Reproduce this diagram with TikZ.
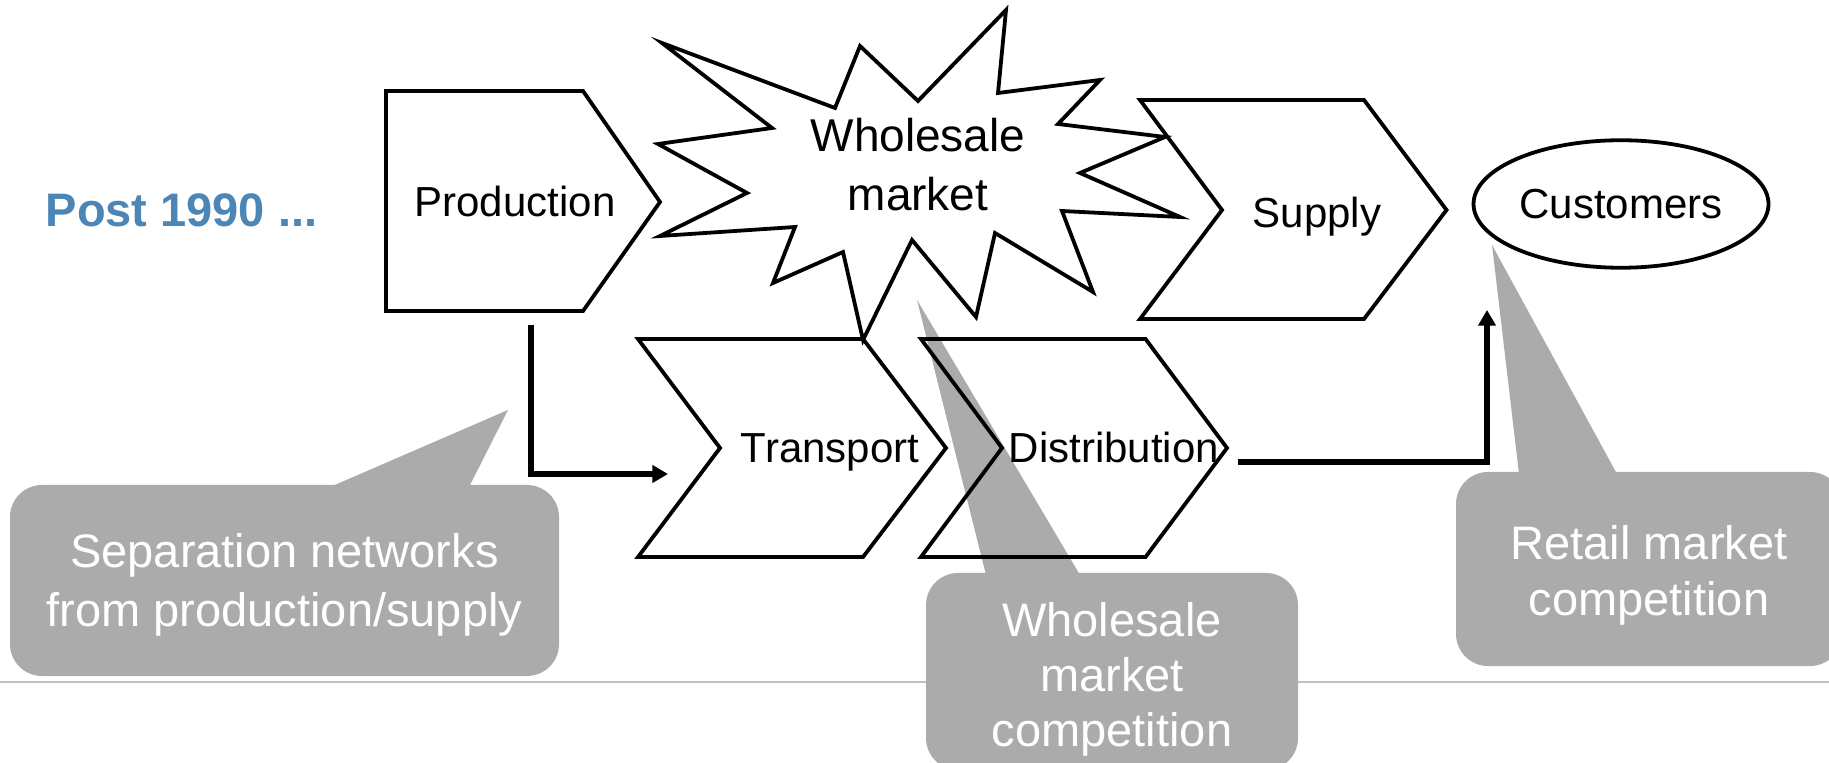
\documentclass[tikz,border=0pt]{standalone}
\usepackage{fontspec}
\setmainfont{Liberation Sans}
\usetikzlibrary{arrows.meta,shapes.geometric}

\definecolor{calloutgray}{RGB}{171,171,171}
\definecolor{postblue}{RGB}{75,134,183}
\definecolor{rulegray}{RGB}{192,192,192}

\tikzset{
  outline/.style={draw=black, line width=1.9pt, line join=miter},
  conn/.style={draw=black, line width=3pt, -{Triangle[length=7.8pt,width=8.5pt]}},
  callout/.style={fill=calloutgray, draw=none},
  lbl/.style={inner sep=0pt, font=\fontsize{21}{25}\selectfont},
  calltext/.style={inner sep=0pt, text=white, align=center},
}

\begin{document}
\begin{tikzpicture}[x=0.5pt,y=-0.5pt]
\useasboundingbox (0,0) rectangle (1829,763);
\clip (0,0) rectangle (1829,763);

% thin rule across the page
\draw[rulegray, line width=0.8pt] (0,682) -- (1829,682);

% callouts (grey bubbles with pointers)
\fill[callout, rounded corners=16pt] (10,485) rectangle (559,676);
\fill[callout] (330,487) -- (508,410) -- (469,487) -- cycle;

\fill[callout, rounded corners=16pt] (926,573) rectangle (1298,770);
\fill[callout] (986,575) -- (917,300) -- (1080,575) -- cycle;

\fill[callout, rounded corners=16pt] (1456,472) rectangle (1842,666);
\fill[callout] (1519,474) -- (1492,245) -- (1617,474) -- cycle;

% title
\node[inner sep=0pt, anchor=base, text=postblue,
      font=\fontsize{23.5}{28}\selectfont\bfseries] (title) at (181.5,227) {Post 1990 ...};

% production
\draw[outline] (386,91) -- (583,91) -- (660,202) -- (583,311) -- (386,311) -- cycle;
\node[lbl, anchor=base] (prod) at (515,217) {Production};

% wholesale market burst
\draw[outline] (662,43) -- (835,108) -- (860,46) -- (918,101) -- (1006,10)
  -- (998,93) -- (1100,80) -- (1058,124) -- (1165,137) -- (1080,173)
  -- (1180,217) -- (1062,211) -- (1093,292) -- (995,233) -- (976,317)
  -- (912,240) -- (863,340) -- (843,252) -- (773,283) -- (795,227)
  -- (660,236) -- (747,193) -- (658,144) -- (772,128) -- cycle;
\node[inner sep=0pt, align=center, font=\fontsize{23}{29.5}\selectfont] (whole) at (918,165) {Wholesale\\market};

% supply
\draw[outline] (1140,100) -- (1364,100) -- (1446.5,210) -- (1364,319) -- (1140,319) -- (1222,210) -- cycle;
\node[lbl, anchor=base] (supply) at (1317,228) {Supply};

% customers
\node[draw=black, line width=1.9pt, ellipse, inner sep=0pt,
      minimum width=147.5pt, minimum height=63.75pt,
      font=\fontsize{21}{25}\selectfont] (cust) at (1621,204) {Customers};

% transport
\draw[outline] (638,339) -- (863,339) -- (946,448) -- (863,557) -- (638,557) -- (720,448) -- cycle;
\node[lbl, anchor=base] (trans) at (830,463) {Transport};

% distribution
\draw[outline] (921,339) -- (1145.5,339) -- (1227,448) -- (1145.5,557) -- (921,557) -- (1002,448) -- cycle;
\node[lbl, anchor=base] (dist) at (1114,463) {Distribution};

% connectors
\coordinate (prodout) at (531,325);
\coordinate (transin) at (668,474);
\draw[conn] (prodout) |- (transin);

\coordinate (distout) at (1238,462);
\coordinate (custin) at (1487,310);
\draw[conn] (distout) -| (custin);

% callout texts
\node[calltext, font=\fontsize{23.5}{29.5}\selectfont] (sep) at (284.5,585)
  {Separation networks\\from production/supply};
\node[calltext, font=\fontsize{23.5}{27.5}\selectfont] (wmc) at (1112,679.5)
  {Wholesale\\market\\competition};
\node[calltext, font=\fontsize{23.5}{28}\selectfont] (rmc) at (1649,575)
  {Retail market\\competition};
\end{tikzpicture}
\end{document}
